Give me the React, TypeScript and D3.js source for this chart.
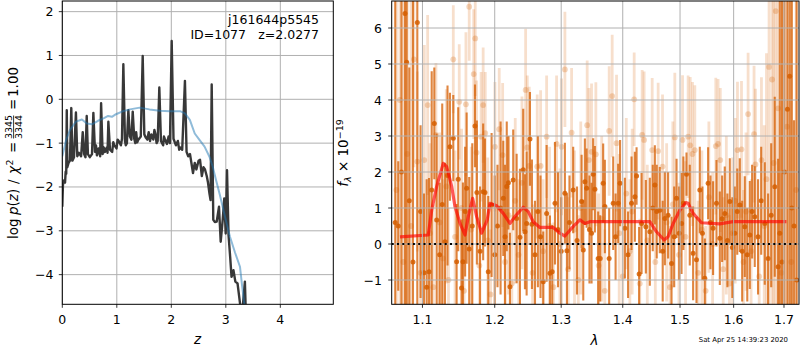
import React from 'react';
import * as d3 from 'd3';

// ---------- data ----------
// left panel: log p(z) (dark) and smooth curve (blue)
const pzCurve: [number, number][] = [
  [0.0, -2.45], [0.012, -1.95], [0.03, -1.85], [0.05, -1.9], [0.062, -1.65], [0.072, -1.7],
  [0.082, -0.25], [0.092, -1.55], [0.115, -1.45], [0.14, -1.4], [0.165, -0.2], [0.185, -1.4],
  [0.215, -1.32], [0.25, -0.3], [0.275, -1.3], [0.305, -1.22], [0.345, -1.3], [0.375, -0.75],
  [0.4, -1.25], [0.425, -1.32], [0.448, -0.38], [0.47, -1.25], [0.505, -1.32], [0.545, -1.25],
  [0.57, -0.31], [0.6, -1.2], [0.618, -1.05], [0.635, -1.28], [0.665, -1.12], [0.695, -1.3], [0.712, -0.09],
  [0.74, -1.25], [0.76, -1.1], [0.78, -1.2], [0.815, -1.1], [0.83, -1.22], [0.845, -0.51], [0.875, -1.15],
  [0.915, -1.2], [0.935, -0.98], [0.955, -1.05], [0.995, -1.12], [1.015, -0.92], [1.035, -0.95],
  [1.075, -1.05], [1.095, -0.9], [1.12, 0.8], [1.15, -0.95], [1.165, -1.05],
  [1.185, -1.0], [1.212, -0.25], [1.24, -0.85], [1.268, -0.92], [1.292, -0.28], [1.32, -0.9],
  [1.34, -1.0], [1.355, -0.75], [1.375, -0.98], [1.395, -0.92], [1.44, -0.85], [1.475, 0.99],
  [1.505, -0.8], [1.535, -0.88], [1.56, -0.92], [1.585, -0.75], [1.61, -0.95], [1.635, -0.8],
  [1.67, -0.92], [1.69, -0.7], [1.71, -0.8], [1.73, -1.0],
  [1.75, -0.95], [1.78, 0.27], [1.81, -0.95], [1.85, -1.05], [1.865, -0.85], [1.88, -0.9], [1.92, -1.02],
  [1.95, -0.85], [1.975, -1.0], [2.007, 1.33], [2.04, -0.9], [2.085, -1.05], [2.12, -0.95],
  [2.145, -1.15], [2.17, -1.1], [2.2, -1.15], [2.25, 0.42], [2.28, -1.2], [2.31, -1.3], [2.343, -1.25],
  [2.398, -1.68], [2.43, -1.45], [2.46, -1.6], [2.5, -1.4], [2.527, -1.38], [2.56, -1.75],
  [2.59, -1.55], [2.618, -1.6], [2.65, -1.75], [2.673, -1.9], [2.7, -2.15], [2.72, -2.3],
  [2.741, 0.34], [2.77, -2.75], [2.8, -2.8], [2.833, -2.79], [2.875, -2.45], [2.906, -3.25],
  [2.943, -2.75], [2.972, -2.26], [2.998, -3.06], [3.022, -1.62], [3.05, -3.1], [3.08, -3.6],
  [3.105, -4.05], [3.14, -3.9], [3.175, -4.16], [3.215, -4.2], [3.265, -4.7], [3.3, -4.9],
  [3.35, -4.16], [3.37, -5.0],
];
const priorCurve: [number, number][] = [
  [0.0, -1.3], [0.07, -0.93], [0.14, -0.7], [0.25, -0.51], [0.36, -0.46], [0.45, -0.55],
  [0.545, -0.57], [0.655, -0.49], [0.765, -0.43], [0.84, -0.38], [0.91, -0.4], [0.985, -0.34],
  [1.095, -0.28], [1.24, -0.23], [1.42, -0.19], [1.6, -0.23], [1.79, -0.26], [1.97, -0.27],
  [2.16, -0.27], [2.25, -0.32], [2.34, -0.47], [2.43, -0.78], [2.52, -0.93], [2.61, -1.08],
  [2.7, -1.31], [2.76, -1.54], [2.82, -1.84], [2.89, -2.18], [2.985, -2.68], [3.075, -3.13],
  [3.17, -3.5], [3.26, -3.82], [3.3, -4.27], [3.34, -4.68], [3.38, -5.2],
];
const zTicks = [0, 1, 2, 3, 4];
const pzTicks = [-4, -3, -2, -1, 0, 1, 2];

// right panel: spectrum [lambda (um), flux, error]
const darkPoints: [number, number, number][] = [
  [1.0645, 0.6, 9], [1.0684, 0.5, 1.8], [1.0725, 2.0, 9], [1.0771, 6.4, 9], [1.0793, 5.05, 9],
  [1.0827, 1.2, 3.7], [1.0875, -0.5, 9], [1.0932, 6.15, 9], [1.0975, 0.9, 2.4], [1.102, -0.8, 2.2],
  [1.1056, -1.2, 3.0], [1.1087, -0.77, 2.6], [1.1123, 1.5, 3.3], [1.1158, 3.35, 1.55], [1.119, 0.67, 2.4],
  [1.123, -0.3, 2.0], [1.1265, 1.1, 2.8], [1.1302, 0.06, 2.2], [1.1337, 1.9, 2.5], [1.137, 2.7, 1.5],
  [1.1416, 2.94, 1.2], [1.1462, -0.49, 1.6], [1.1484, 1.8, 2.0], [1.153, -1.22, 1.9], [1.1549, -0.49, 2.2],
  [1.158, 0.9, 1.8], [1.1601, 1.55, 2.1], [1.1637, -0.14, 2.0], [1.168, 0.5, 2.3], [1.1718, 3.28, 1.15],
  [1.1745, 1.43, 2.0], [1.179, -0.2, 1.8], [1.1834, 1.45, 1.9], [1.186, 1.43, 1.5], [1.1907, -0.77, 2.1],
  [1.1955, 1.08, 2.0], [1.2, -0.3, 2.2], [1.204, 0.5, 1.7], [1.2085, 1.0, 2.4], [1.2124, 1.27, 1.6],
  [1.215, 0.2, 2.0], [1.2175, 1.6, 1.8], [1.2199, 1.7, 1.3], [1.2222, -1.19, 1.5], [1.227, 1.78, 1.4],
  [1.2321, 0.71, 1.8], [1.237, 0.19, 1.9], [1.2419, 2.06, 1.7], [1.2445, 0.34, 1.6], [1.247, 0.57, 2.0],
  [1.252, 2.92, 1.3], [1.255, 0.55, 1.8], [1.2596, -0.3, 1.5], [1.264, 0.9, 2.1], [1.268, 0.2, 1.7],
  [1.2722, -1.05, 1.4], [1.2774, 0.85, 1.9], [1.2825, -0.81, 1.6], [1.286, -0.77, 1.3], [1.2903, 1.13, 1.7],
  [1.295, 0.4, 1.6], [1.3, -0.2, 1.5], [1.3058, 1.41, 1.4], [1.309, -0.19, 1.6], [1.313, 0.6, 1.3],
  [1.3189, 1.5, 1.2], [1.325, 0.1, 1.5], [1.3323, 1.18, 1.3], [1.335, -0.17, 1.4], [1.3376, 1.73, 1.2],
  [1.3404, 1.55, 1.1], [1.345, 0.4, 1.5], [1.3484, 0.3, 1.4], [1.351, 1.94, 1.0], [1.3538, 1.52, 1.2],
  [1.3592, -0.4, 1.3], [1.3625, -0.4, 1.2], [1.3674, 1.69, 1.1], [1.3702, 1.04, 1.3], [1.3773, -0.4, 1.4],
  [1.384, 1.13, 1.3], [1.388, 0.2, 1.2], [1.3923, 1.13, 1.1], [1.3955, 1.69, 1.2], [1.4036, 0.44, 1.4],
  [1.409, -0.3, 1.2], [1.4149, 1.13, 1.3], [1.4206, 1.31, 1.25], [1.4235, 1.89, 0.8], [1.4279, -0.83, 1.3],
  [1.4321, 0.57, 1.4], [1.4395, 0.48, 1.3], [1.4464, 0.34, 1.5], [1.4515, 1.0, 1.2], [1.4552, 1.64, 1.1],
  [1.4585, 0.9, 1.3], [1.4639, 0.94, 1.2], [1.469, -0.2, 1.4], [1.4728, 0.71, 1.3], [1.4786, 0.8, 1.2],
  [1.4847, -0.54, 1.3], [1.4895, 0.2, 1.4], [1.4937, 1.27, 1.1], [1.4985, 0.3, 1.3], [1.5027, 0.57, 1.4],
  [1.506, 1.13, 1.3], [1.5117, 1.94, 0.6], [1.5177, 0.8, 1.4], [1.5238, -0.26, 1.3], [1.53, -0.44, 1.2],
  [1.5361, 1.5, 1.2], [1.541, 0.3, 1.3], [1.5454, -0.95, 1.1], [1.5516, 1.69, 1.0], [1.556, 0.6, 1.3],
  [1.5609, 0.44, 1.3], [1.5673, 1.13, 1.2], [1.5736, 0.16, 1.3], [1.578, 0.7, 1.2], [1.583, 0.85, 1.3],
  [1.588, 0.1, 1.3], [1.5926, 1.18, 1.2], [1.5975, -0.1, 1.4], [1.6022, 0.3, 1.3], [1.607, 0.9, 1.2],
  [1.6119, 1.08, 1.3], [1.6165, -0.2, 1.4], [1.6216, 0.48, 1.4], [1.6265, -0.3, 1.3], [1.6314, 0.25, 1.5],
  [1.636, 0.9, 1.3], [1.6412, 0.76, 1.4], [1.6477, 0.2, 1.6], [1.654, 1.2, 1.5], [1.6611, 0.57, 1.7],
  [1.6678, -0.4, 1.8], [1.674, 0.8, 2.0], [1.6812, 1.59, 2.5], [1.688, -0.63, 3.0], [1.6914, 0.3, 9],
  [1.696, -0.5, 9], [1.701, 2.0, 9], [1.7071, 3.74, 9], [1.7117, 4.66, 9], [1.716, 1.0, 9],
  [1.7207, 0.5, 2.94], [1.726, -1.0, 9],
];
const lightPoints: [number, number, number][] = [
  [1.066, 1.5, 9], [1.0705, 4.0, 9], [1.075, -0.5, 9], [1.08, 2.5, 9], [1.085, 0.5, 9],
  [1.0888, 5.13, 3], [1.0932, 2.29, 2.5], [1.0975, -0.8, 2.8], [1.1024, 2.33, 3.2], [1.1069, 3.86, 2.5],
  [1.11, 0.3, 2.5], [1.1145, -1.2, 2.3], [1.118, 3.03, 2.0], [1.123, 0.6, 2.5], [1.1275, -0.4, 2.2],
  [1.132, 1.6, 2.7], [1.135, -1.0, 2.0], [1.1416, 5.13, 1.5], [1.144, 0.2, 2.4], [1.1498, 3.95, 1.6],
  [1.153, 1.0, 2.2], [1.1565, -1.3, 2.0], [1.1591, 3.88, 2.0], [1.1637, 6.59, 1.5], [1.1665, 0.4, 2.3],
  [1.17, 4.72, 1.8], [1.1722, 5.71, 1.6], [1.174, 2.54, 2.0], [1.178, -0.6, 2.0], [1.1805, 2.98, 1.8],
  [1.1834, 3.86, 1.6], [1.1864, 3.08, 1.7], [1.19, 0.1, 2.3], [1.194, -1.4, 1.8], [1.2003, 2.7, 1.8],
  [1.2065, 3.19, 1.7], [1.2115, 2.47, 2.0], [1.215, -0.5, 2.0], [1.22, 0.8, 2.2], [1.225, -1.1, 1.9],
  [1.23, 1.2, 2.3], [1.235, -0.3, 2.1], [1.24, 1.7, 2.4], [1.2455, 4.28, 1.7], [1.248, 2.68, 2.0],
  [1.2509, 2.17, 2.2], [1.256, -0.8, 1.9], [1.263, 2.15, 2.0], [1.2682, 2.17, 2.1], [1.272, -0.2, 2.0],
  [1.2774, 2.98, 1.7], [1.282, 0.5, 2.2], [1.288, -1.2, 1.8], [1.2928, 2.78, 1.9], [1.298, 0.0, 2.1],
  [1.3006, 2.7, 1.9], [1.3058, 4.85, 1.6], [1.311, -0.7, 2.0], [1.3164, 3.09, 1.8], [1.321, 0.4, 2.2],
  [1.327, -1.0, 1.8], [1.331, 1.0, 2.4], [1.3413, 3.3, 1.8], [1.3441, 2.33, 2.0], [1.3484, 2.56, 1.9],
  [1.3554, 2.49, 2.0], [1.36, -0.6, 2.0], [1.365, 0.7, 2.3], [1.37, -1.3, 1.7], [1.3773, 3.14, 1.8],
  [1.3823, 4.11, 1.7], [1.3896, 2.8, 1.9], [1.394, 0.3, 2.2], [1.4, -0.9, 1.9], [1.406, 1.4, 2.1],
  [1.412, -0.2, 2.0], [1.416, 0.9, 2.3], [1.4194, 4.02, 1.3], [1.429, -1.1, 1.8], [1.4331, 3.03, 1.8],
  [1.4365, 2.89, 1.9], [1.442, 0.1, 2.1], [1.4505, 2.61, 2.0], [1.456, -0.5, 2.1], [1.461, 2.58, 1.9],
  [1.4687, 2.15, 2.0], [1.476, 0.6, 2.2], [1.482, -1.2, 1.7], [1.487, 1.1, 2.3], [1.4906, 2.96, 1.8],
  [1.498, -0.3, 2.0], [1.5045, 2.89, 1.8], [1.51, 0.2, 2.1], [1.5147, 2.98, 1.7], [1.5185, 2.74, 1.9],
  [1.5226, 2.5, 2.0], [1.5269, 2.61, 1.8], [1.533, -0.8, 2.0], [1.54, 0.4, 2.2], [1.547, -1.3, 1.8],
  [1.553, 1.3, 2.1], [1.56, 0.0, 2.0], [1.566, 2.72, 1.9], [1.5703, 2.78, 1.8], [1.5745, 2.33, 2.0],
  [1.58, -0.7, 2.0], [1.586, 0.8, 2.2], [1.592, -1.1, 1.9], [1.598, 0.3, 2.1], [1.603, 1.2, 2.3],
  [1.6074, 2.61, 1.9], [1.6152, 2.63, 1.9], [1.619, -0.5, 2.0], [1.624, 0.9, 2.2], [1.6281, 3.61, 1.7],
  [1.634, -0.2, 2.0], [1.6398, 3.05, 1.9], [1.6426, 2.21, 2.1], [1.65, -0.9, 2.0], [1.6545, 2.33, 2.3],
  [1.66, 0.5, 2.8], [1.6645, 1.8, 3.5], [1.6697, 4.92, 9], [1.6758, 4.57, 9], [1.679, 2.25, 9],
  [1.6832, 6.47, 9], [1.688, 3.77, 9], [1.695, -0.8, 9], [1.7063, 3.26, 9], [1.715, -0.5, 9],
  [1.725, 1.5, 9],
];
const modelCurve: [number, number][] = [
  [1.0706, 0.2], [1.1077, 0.25], [1.1123, 0.94], [1.119, 1.6], [1.1279, 2.24], [1.1325, 2.15],
  [1.1394, 1.6], [1.1439, 1.04], [1.1508, 0.58], [1.1578, 0.25], [1.1624, 0.76], [1.1685, 1.27],
  [1.1742, 0.76], [1.1812, 0.3], [1.1892, 0.67], [1.1931, 1.13], [1.2028, 1.06], [1.2124, 0.85],
  [1.2222, 0.57], [1.2295, 0.76], [1.2419, 1.02], [1.2494, 0.9], [1.2569, 0.62], [1.2671, 0.46],
  [1.2875, 0.46], [1.298, 0.3], [1.3058, 0.22], [1.3164, 0.44], [1.3296, 0.67], [1.3376, 0.57],
  [1.3457, 0.62], [1.4464, 0.62], [1.4581, 0.34], [1.4715, 0.11], [1.4786, 0.2], [1.4876, 0.57],
  [1.4996, 0.94], [1.5105, 1.15], [1.5147, 1.13], [1.5238, 0.85], [1.5393, 0.59], [1.5736, 0.56],
  [1.5989, 0.62], [1.705, 0.62],
];
const waveTicks = [1.1, 1.2, 1.3, 1.4, 1.5, 1.6, 1.7];
const fluxTicks = [-1, 0, 1, 2, 3, 4, 5, 6];

const fieldName = 'j161644p5545';
const idText = 'ID=1077';
const zText = 'z=2.0277';
const dateText = 'Sat Apr 25 14:39:23 2020';

const FONT = '"DejaVu Sans", Verdana, sans-serif';
const ORANGE = '#d55e00';
const GRID = '#b0b0b0';
const fmt = (v: number) => (v < 0 ? '\u2212' + Math.abs(v) : String(v));

export default function App() {
  const L = { left: 62.3, right: 333.3, top: 1, bottom: 304.3 };
  const R = { left: 391.7, right: 799, top: 1, bottom: 304.3 };
  const xz = d3.scaleLinear().domain([0, 4.972]).range([L.left, L.right]);
  const yp = d3.scaleLinear().domain([-4.677, 2.243]).range([L.bottom, L.top]);
  const xw = d3.scaleLog().domain([1.06, 1.731]).range([R.left, R.right]);
  const yf = d3.scaleLinear().domain([-1.675, 6.75]).range([R.bottom, R.top]);

  const pzLine = d3.line<[number, number]>().x(d => xz(d[0])).y(d => yp(d[1]));
  const modelLine = d3.line<[number, number]>().x(d => xw(d[0])).y(d => yf(d[1]));

  const tickFont = 12.5;

  return (
    <svg width={800} height={350} style={{ position: 'absolute', left: 0, top: 0, background: '#fff' }}
      fontFamily={FONT}>
      <defs>
        <clipPath id="clipL"><rect x={L.left} y={L.top} width={L.right - L.left} height={L.bottom - L.top} /></clipPath>
        <clipPath id="clipR"><rect x={R.left} y={R.top} width={R.right - R.left} height={R.bottom - R.top} /></clipPath>
      </defs>
      <rect x={0} y={0} width={800} height={350} fill="#fff" />

      {/* ---------- left panel ---------- */}
      <g>
        {zTicks.map(t => (
          <line key={'gz' + t} x1={xz(t)} x2={xz(t)} y1={L.top} y2={L.bottom} stroke={GRID} strokeWidth={1} />
        ))}
        {pzTicks.map(t => (
          <line key={'gp' + t} x1={L.left} x2={L.right} y1={yp(t)} y2={yp(t)} stroke={GRID} strokeWidth={1} />
        ))}
        <g clipPath="url(#clipL)">
          <path d={pzLine(pzCurve) || ''} fill="none" stroke="#383838" strokeWidth={2.4} strokeLinejoin="round" />
          <path d={pzLine(priorCurve) || ''} fill="none" stroke="#1f77b4" strokeOpacity={0.5} strokeWidth={2} strokeLinejoin="round" />
        </g>
        <rect x={L.left} y={L.top} width={L.right - L.left} height={L.bottom - L.top} fill="none" stroke="#000" strokeWidth={1} />
        {zTicks.map(t => (
          <g key={'tz' + t}>
            <line x1={xz(t)} x2={xz(t)} y1={L.bottom} y2={L.bottom + 3.5} stroke="#000" strokeWidth={0.8} />
            <text x={xz(t)} y={324} textAnchor="middle" fontSize={tickFont}>{fmt(t)}</text>
          </g>
        ))}
        {pzTicks.map(t => (
          <g key={'tp' + t}>
            <line x1={L.left - 3.5} x2={L.left} y1={yp(t)} y2={yp(t)} stroke="#000" strokeWidth={0.8} />
            <text x={53.5} y={yp(t)} dy="0.36em" textAnchor="end" fontSize={tickFont}>{fmt(t)}</text>
          </g>
        ))}
        <text x={319} y={24} textAnchor="end" fontSize={12.5}>{fieldName}</text>
        <text x={246} y={38.5} textAnchor="end" fontSize={12.5}>{idText}</text>
        <text x={319} y={38.5} textAnchor="end" fontSize={12.5}>{zText}</text>
        <text x={xz(2.48)} y={344} textAnchor="middle" fontSize={13.5} fontStyle="italic">z</text>
        {/* y label */}
        <g transform="translate(18,241) rotate(-90)" fontSize={13.5}>
          <text x={2} y={0}>log</text>
          <text x={26} y={0}><tspan fontStyle="italic">p</tspan>(<tspan fontStyle="italic">z</tspan>)</text>
          <text x={57} y={0}>/</text>
          <text x={67} y={0} fontStyle="italic">χ</text>
          <text x={75.5} y={-5.5} fontSize={9.5}>2</text>
          <text x={88} y={0}>=</text>
          <text x={114} y={-6.2} fontSize={9.5} textAnchor="middle">3345</text>
          <line x1={102.5} x2={125.5} y1={-4.4} y2={-4.4} stroke="#000" strokeWidth={0.8} />
          <text x={114} y={4.2} fontSize={9.5} textAnchor="middle">3344</text>
          <text x={131} y={0}>=</text>
          <text x={144} y={0}>1.00</text>
        </g>
      </g>

      {/* ---------- right panel ---------- */}
      <g>
        <g clipPath="url(#clipR)">
          {lightPoints.map((p, i) => (
            <line key={'le' + i} x1={xw(p[0])} x2={xw(p[0])} y1={yf(p[1] - p[2])} y2={yf(p[1] + p[2])}
              stroke={ORANGE} strokeOpacity={0.2} strokeWidth={2.8} />
          ))}
          {lightPoints.map((p, i) => (
            <circle key={'lp' + i} cx={xw(p[0])} cy={yf(p[1])} r={2.9} fill={ORANGE} fillOpacity={0.25} />
          ))}
          {darkPoints.map((p, i) => (
            <line key={'de' + i} x1={xw(p[0])} x2={xw(p[0])} y1={yf(p[1] - p[2])} y2={yf(p[1] + p[2])}
              stroke={ORANGE} strokeOpacity={0.75} strokeWidth={2.1} />
          ))}
          {darkPoints.map((p, i) => (
            <circle key={'dp' + i} cx={xw(p[0])} cy={yf(p[1])} r={2.5} fill={ORANGE} fillOpacity={0.85} />
          ))}
          <path d={modelLine(modelCurve) || ''} fill="none" stroke="#ff0000" strokeOpacity={0.65} strokeWidth={3.2}
            strokeLinejoin="round" />
          {waveTicks.map(t => (
            <line key={'gw' + t} x1={xw(t)} x2={xw(t)} y1={R.top} y2={R.bottom} stroke={GRID} strokeWidth={1} />
          ))}
          {fluxTicks.map(t => (
            <line key={'gf' + t} x1={R.left} x2={R.right} y1={yf(t)} y2={yf(t)} stroke={GRID} strokeWidth={1} />
          ))}
          <line x1={R.left} x2={R.right} y1={yf(0)} y2={yf(0)} stroke="#000" strokeWidth={2} strokeDasharray="2 3.3" />
        </g>
        <rect x={R.left} y={R.top} width={R.right - R.left} height={R.bottom - R.top} fill="none" stroke="#000" strokeWidth={1} />
        {waveTicks.map(t => (
          <g key={'tw' + t}>
            <line x1={xw(t)} x2={xw(t)} y1={R.bottom} y2={R.bottom + 3.5} stroke="#000" strokeWidth={0.8} />
            <text x={xw(t)} y={324} textAnchor="middle" fontSize={tickFont}>{t.toFixed(1)}</text>
          </g>
        ))}
        {fluxTicks.map(t => (
          <g key={'tf' + t}>
            <line x1={R.left - 3.5} x2={R.left} y1={yf(t)} y2={yf(t)} stroke="#000" strokeWidth={0.8} />
            <text x={382} y={yf(t)} dy="0.36em" textAnchor="end" fontSize={tickFont}>{fmt(t)}</text>
          </g>
        ))}
        <text x={594.5} y={345} textAnchor="middle" fontSize={13.5} fontStyle="italic">λ</text>
        <text transform="translate(348,153) rotate(-90)" textAnchor="middle" fontSize={13.5}>
          <tspan fontStyle="italic">f</tspan>
          <tspan fontStyle="italic" fontSize={9.5} dy={3}>λ</tspan>
          <tspan dy={-3}> × 10</tspan>
          <tspan fontSize={9.5} dy={-5.5}>−19</tspan>
        </text>
        <text x={788} y={341.5} textAnchor="end" fontSize={6.9}>{dateText}</text>
      </g>
    </svg>
  );
}
